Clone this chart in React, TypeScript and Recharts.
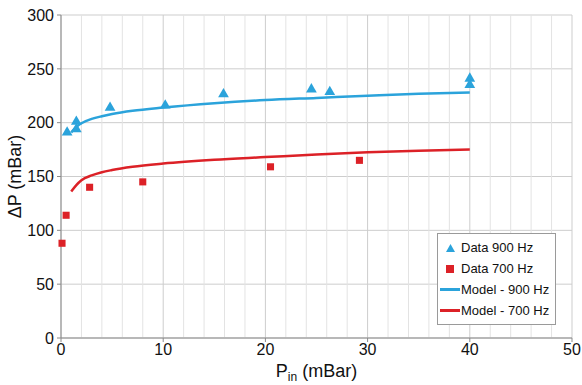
import React from "react";
import {
  CartesianGrid,
  ComposedChart,
  Label,
  Line,
  ReferenceLine,
  Scatter,
  XAxis,
  YAxis,
  ZAxis,
} from "recharts";

// measured points
const data900 = [
  { p: 0.6, dp: 191 },
  { p: 1.5, dp: 201 },
  { p: 1.5, dp: 194 },
  { p: 4.8, dp: 214 },
  { p: 10.2, dp: 216 },
  { p: 15.9, dp: 226.5 },
  { p: 24.5, dp: 231 },
  { p: 26.3, dp: 228.5 },
  { p: 40, dp: 241 },
  { p: 40, dp: 235 },
];

const data700 = [
  { p: 0.1, dp: 88 },
  { p: 0.5, dp: 114 },
  { p: 2.8, dp: 140 },
  { p: 8, dp: 145 },
  { p: 20.5, dp: 159 },
  { p: 29.2, dp: 165 },
];

// model curves
const model900 = [
  { p: 1, dp: 191 },
  { p: 1.5, dp: 196 },
  { p: 2, dp: 199.5 },
  { p: 3, dp: 203.5 },
  { p: 4, dp: 206 },
  { p: 5, dp: 208 },
  { p: 7, dp: 211 },
  { p: 10, dp: 214 },
  { p: 15, dp: 218 },
  { p: 20, dp: 221 },
  { p: 25, dp: 223 },
  { p: 30, dp: 225 },
  { p: 35, dp: 226.8 },
  { p: 40, dp: 228 },
];

const model700 = [
  { p: 1, dp: 136 },
  { p: 1.5, dp: 142 },
  { p: 2, dp: 146.5 },
  { p: 3, dp: 151 },
  { p: 4, dp: 154 },
  { p: 5, dp: 156 },
  { p: 7, dp: 159 },
  { p: 10, dp: 162 },
  { p: 15, dp: 165.5 },
  { p: 20, dp: 168 },
  { p: 25, dp: 170.5 },
  { p: 30, dp: 172.5 },
  { p: 35, dp: 174 },
  { p: 40, dp: 175 },
];

const xTicks = [0, 10, 20, 30, 40, 50];
const xMinorTicks = [2, 4, 6, 8, 12, 14, 16, 18, 22, 24, 26, 28, 32, 34, 36, 38, 42, 44, 46, 48];
const yTicks = [0, 50, 100, 150, 200, 250, 300];

const BLUE = "#2ba3db";
const RED = "#dc2127";
const FONT = "Liberation Sans, Arial, sans-serif";

function LegendBox() {
  const row = { display: "flex", alignItems: "center", height: 21, whiteSpace: "nowrap" } as const;
  const icon = { width: 22, display: "flex", justifyContent: "center" } as const;
  return (
    <div
      style={{
        position: "absolute",
        left: 437,
        top: 233,
        border: "1px solid #9a9a9a",
        background: "#fff",
        padding: "3px 6px 3px 1px",
        fontFamily: FONT,
        fontSize: 13,
        color: "#111",
      }}
    >
      <div style={row}>
        <div style={icon}>
          <svg width={9} height={8}>
            <polygon points="4.5,0 9,8 0,8" fill={BLUE} />
          </svg>
        </div>
        <span>Data 900 Hz</span>
      </div>
      <div style={row}>
        <div style={icon}>
          <svg width={8} height={8}>
            <rect x={0} y={0} width={8} height={8} fill={RED} />
          </svg>
        </div>
        <span>Data 700 Hz</span>
      </div>
      <div style={row}>
        <div style={icon}>
          <svg width={20} height={4}>
            <rect x={0} y={0} width={20} height={3} fill={BLUE} />
          </svg>
        </div>
        <span>Model - 900 Hz</span>
      </div>
      <div style={row}>
        <div style={icon}>
          <svg width={20} height={4}>
            <rect x={0} y={0} width={20} height={3} fill={RED} />
          </svg>
        </div>
        <span>Model - 700 Hz</span>
      </div>
    </div>
  );
}

function XTitle(props: any) {
  const vb = props.viewBox || {};
  const cx = vb.x + vb.width / 2;
  return (
    <text x={cx} y={vb.y + 39} textAnchor="middle" fontFamily={FONT} fontSize={18} fill="#111">
      <tspan>P</tspan>
      <tspan fontSize={12} dy={4}>in</tspan>
      <tspan dy={-4}> (mBar)</tspan>
    </text>
  );
}

export default function App() {
  return (
    <div style={{ position: "absolute", left: 0, top: 0, width: 582, height: 385, background: "#fff" }}>
      <ComposedChart
        width={582}
        height={385}
        margin={{ top: 15, right: 10, left: 0, bottom: 0 }}
      >
        {xMinorTicks.map((t) => (
          <ReferenceLine key={t} x={t} stroke="#e3e3e3" strokeWidth={1} />
        ))}
        <CartesianGrid stroke="#cdcdcd" strokeWidth={1} />
        <XAxis
          type="number"
          dataKey="p"
          domain={[0, 50]}
          ticks={xTicks}
          height={47}
          stroke="#8a8a8a"
          tickSize={4}
          tick={{ fill: "#111", fontSize: 16, fontFamily: FONT }}
          tickMargin={2}
        >
          <Label content={<XTitle />} />
        </XAxis>
        <YAxis
          type="number"
          dataKey="dp"
          domain={[0, 300]}
          ticks={yTicks}
          width={61}
          stroke="#8a8a8a"
          tickSize={4}
          tickMargin={3}
          tick={{ fill: "#111", fontSize: 16, fontFamily: FONT }}
        >
          <Label
            value="ΔP (mBar)"
            angle={-90}
            position="insideLeft"
            offset={15}
            style={{ textAnchor: "middle", fontSize: 18, fontFamily: FONT, fill: "#111" }}
          />
        </YAxis>
        <ZAxis range={[50, 50]} />
        <Line
          data={model900}
          dataKey="dp"
          type="monotone"
          stroke={BLUE}
          strokeWidth={2.5}
          dot={false}
          isAnimationActive={false}
        />
        <Line
          data={model700}
          dataKey="dp"
          type="monotone"
          stroke={RED}
          strokeWidth={2.5}
          dot={false}
          isAnimationActive={false}
        />
        <Scatter data={data900} dataKey="dp" shape="triangle" fill={BLUE} isAnimationActive={false} />
        <Scatter data={data700} dataKey="dp" shape="square" fill={RED} isAnimationActive={false} />
      </ComposedChart>
      <LegendBox />
    </div>
  );
}
